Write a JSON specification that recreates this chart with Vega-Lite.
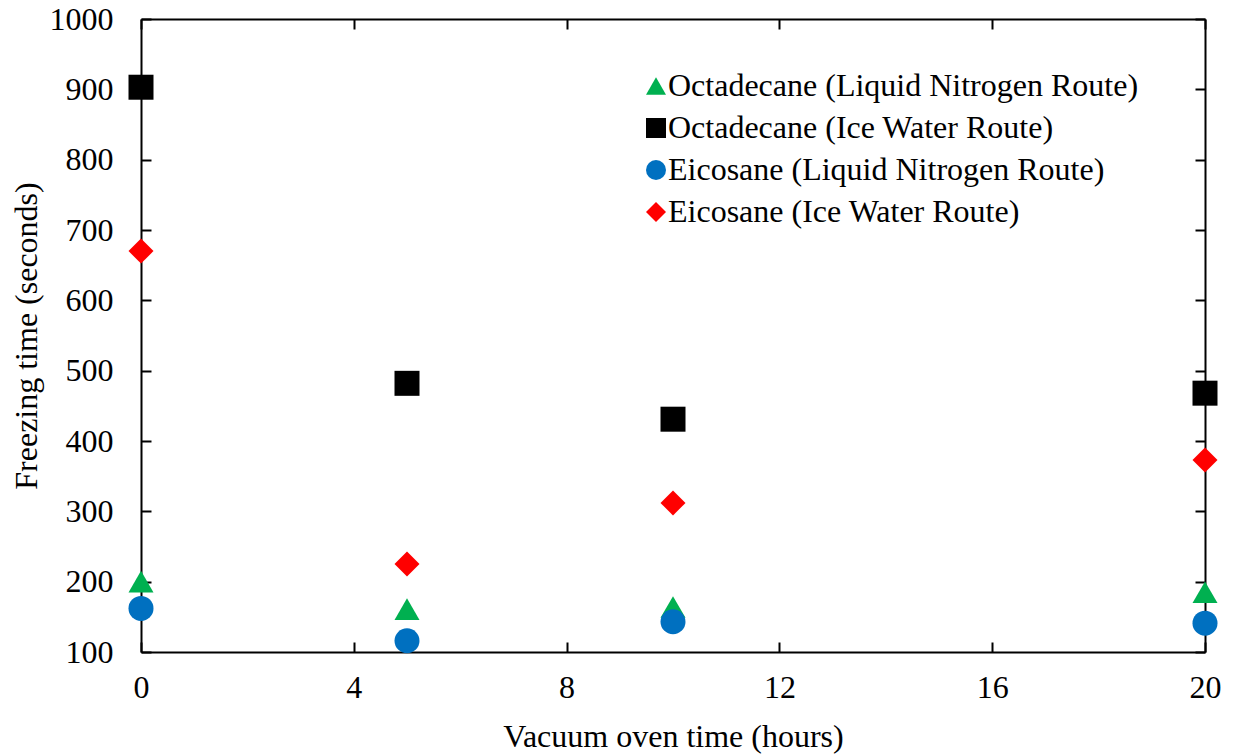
{
  "$schema": "https://vega.github.io/schema/vega-lite/v6.json",
  "width": 1064,
  "height": 633,
  "autosize": {"type": "none"},
  "padding": {"left": 141, "top": 19, "right": 28, "bottom": 103},
  "background": "white",
  "config": {
    "view": {"stroke": null},
    "font": "Liberation Serif",
    "axis": {
      "domainColor": "black",
      "domainWidth": 2,
      "tickColor": "black",
      "tickWidth": 2,
      "tickSize": -10,
      "grid": false,
      "labelFlush": false,
      "labelFont": "Liberation Serif",
      "labelFontSize": 32,
      "labelColor": "black",
      "titleFont": "Liberation Serif",
      "titleFontSize": 32,
      "titleFontWeight": "normal",
      "titleColor": "black"
    },
    "legend": {
      "labelFont": "Liberation Serif",
      "labelFontSize": 32,
      "labelColor": "black",
      "labelLimit": 0
    }
  },
  "data": {
    "values": [
      {"series": "Octadecane (Liquid Nitrogen Route)", "hours": 0, "time": 200},
      {"series": "Octadecane (Liquid Nitrogen Route)", "hours": 5, "time": 161},
      {"series": "Octadecane (Liquid Nitrogen Route)", "hours": 10, "time": 164},
      {"series": "Octadecane (Liquid Nitrogen Route)", "hours": 20, "time": 185},
      {"series": "Octadecane (Ice Water Route)", "hours": 0, "time": 903},
      {"series": "Octadecane (Ice Water Route)", "hours": 5, "time": 482},
      {"series": "Octadecane (Ice Water Route)", "hours": 10, "time": 431},
      {"series": "Octadecane (Ice Water Route)", "hours": 20, "time": 468},
      {"series": "Eicosane (Liquid Nitrogen Route)", "hours": 0, "time": 162},
      {"series": "Eicosane (Liquid Nitrogen Route)", "hours": 5, "time": 116},
      {"series": "Eicosane (Liquid Nitrogen Route)", "hours": 10, "time": 143},
      {"series": "Eicosane (Liquid Nitrogen Route)", "hours": 20, "time": 141},
      {"series": "Eicosane (Ice Water Route)", "hours": 0, "time": 670},
      {"series": "Eicosane (Ice Water Route)", "hours": 5, "time": 225},
      {"series": "Eicosane (Ice Water Route)", "hours": 10, "time": 312},
      {"series": "Eicosane (Ice Water Route)", "hours": 20, "time": 373}
    ]
  },
  "layer": [
    {
      "mark": {"type": "point", "filled": true, "size": 625, "opacity": 1, "strokeWidth": 0},
      "encoding": {
        "x": {
          "field": "hours", "type": "quantitative",
          "scale": {"domain": [0, 20], "nice": false},
          "axis": {"orient": "bottom", "values": [0, 4, 8, 12, 16, 20], "format": "d", "title": "Vacuum oven time (hours)", "labelPadding": 30, "titlePadding": 18}
        },
        "y": {
          "field": "time", "type": "quantitative",
          "scale": {"domain": [100, 1000], "nice": false, "zero": false},
          "axis": {"orient": "left", "values": [100, 200, 300, 400, 500, 600, 700, 800, 900, 1000], "format": "d", "title": "Freezing time (seconds)", "labelPadding": 38, "titlePadding": 6}
        },
        "color": {
          "field": "series", "type": "nominal",
          "scale": {
            "domain": ["Octadecane (Liquid Nitrogen Route)", "Octadecane (Ice Water Route)", "Eicosane (Liquid Nitrogen Route)", "Eicosane (Ice Water Route)"],
            "range": ["#00B050", "#000000", "#0070C0", "#FF0000"]
          },
          "legend": {
            "title": null,
            "orient": "none",
            "legendX": 499,
            "legendY": 51,
            "padding": 0,
            "rowPadding": 10,
            "labelOffset": -4,
            "symbolSize": 400,
            "symbolStrokeWidth": 0,
            "symbolOpacity": 1
          }
        },
        "shape": {
          "field": "series", "type": "nominal",
          "scale": {
            "domain": ["Octadecane (Liquid Nitrogen Route)", "Octadecane (Ice Water Route)", "Eicosane (Liquid Nitrogen Route)", "Eicosane (Ice Water Route)"],
            "range": ["triangle-up", "square", "circle", "diamond"]
          },
          "legend": null
        }
      }
    },
    {
      "mark": {"type": "point", "opacity": 0},
      "encoding": {
        "x": {
          "field": "hours", "type": "quantitative",
          "axis": {"orient": "top", "values": [0, 4, 8, 12, 16, 20], "labels": false, "title": null}
        },
        "y": {
          "field": "time", "type": "quantitative",
          "axis": {"orient": "right", "values": [100, 200, 300, 400, 500, 600, 700, 800, 900, 1000], "labels": false, "title": null}
        }
      }
    }
  ],
  "resolve": {"axis": {"x": "independent", "y": "independent"}}
}
